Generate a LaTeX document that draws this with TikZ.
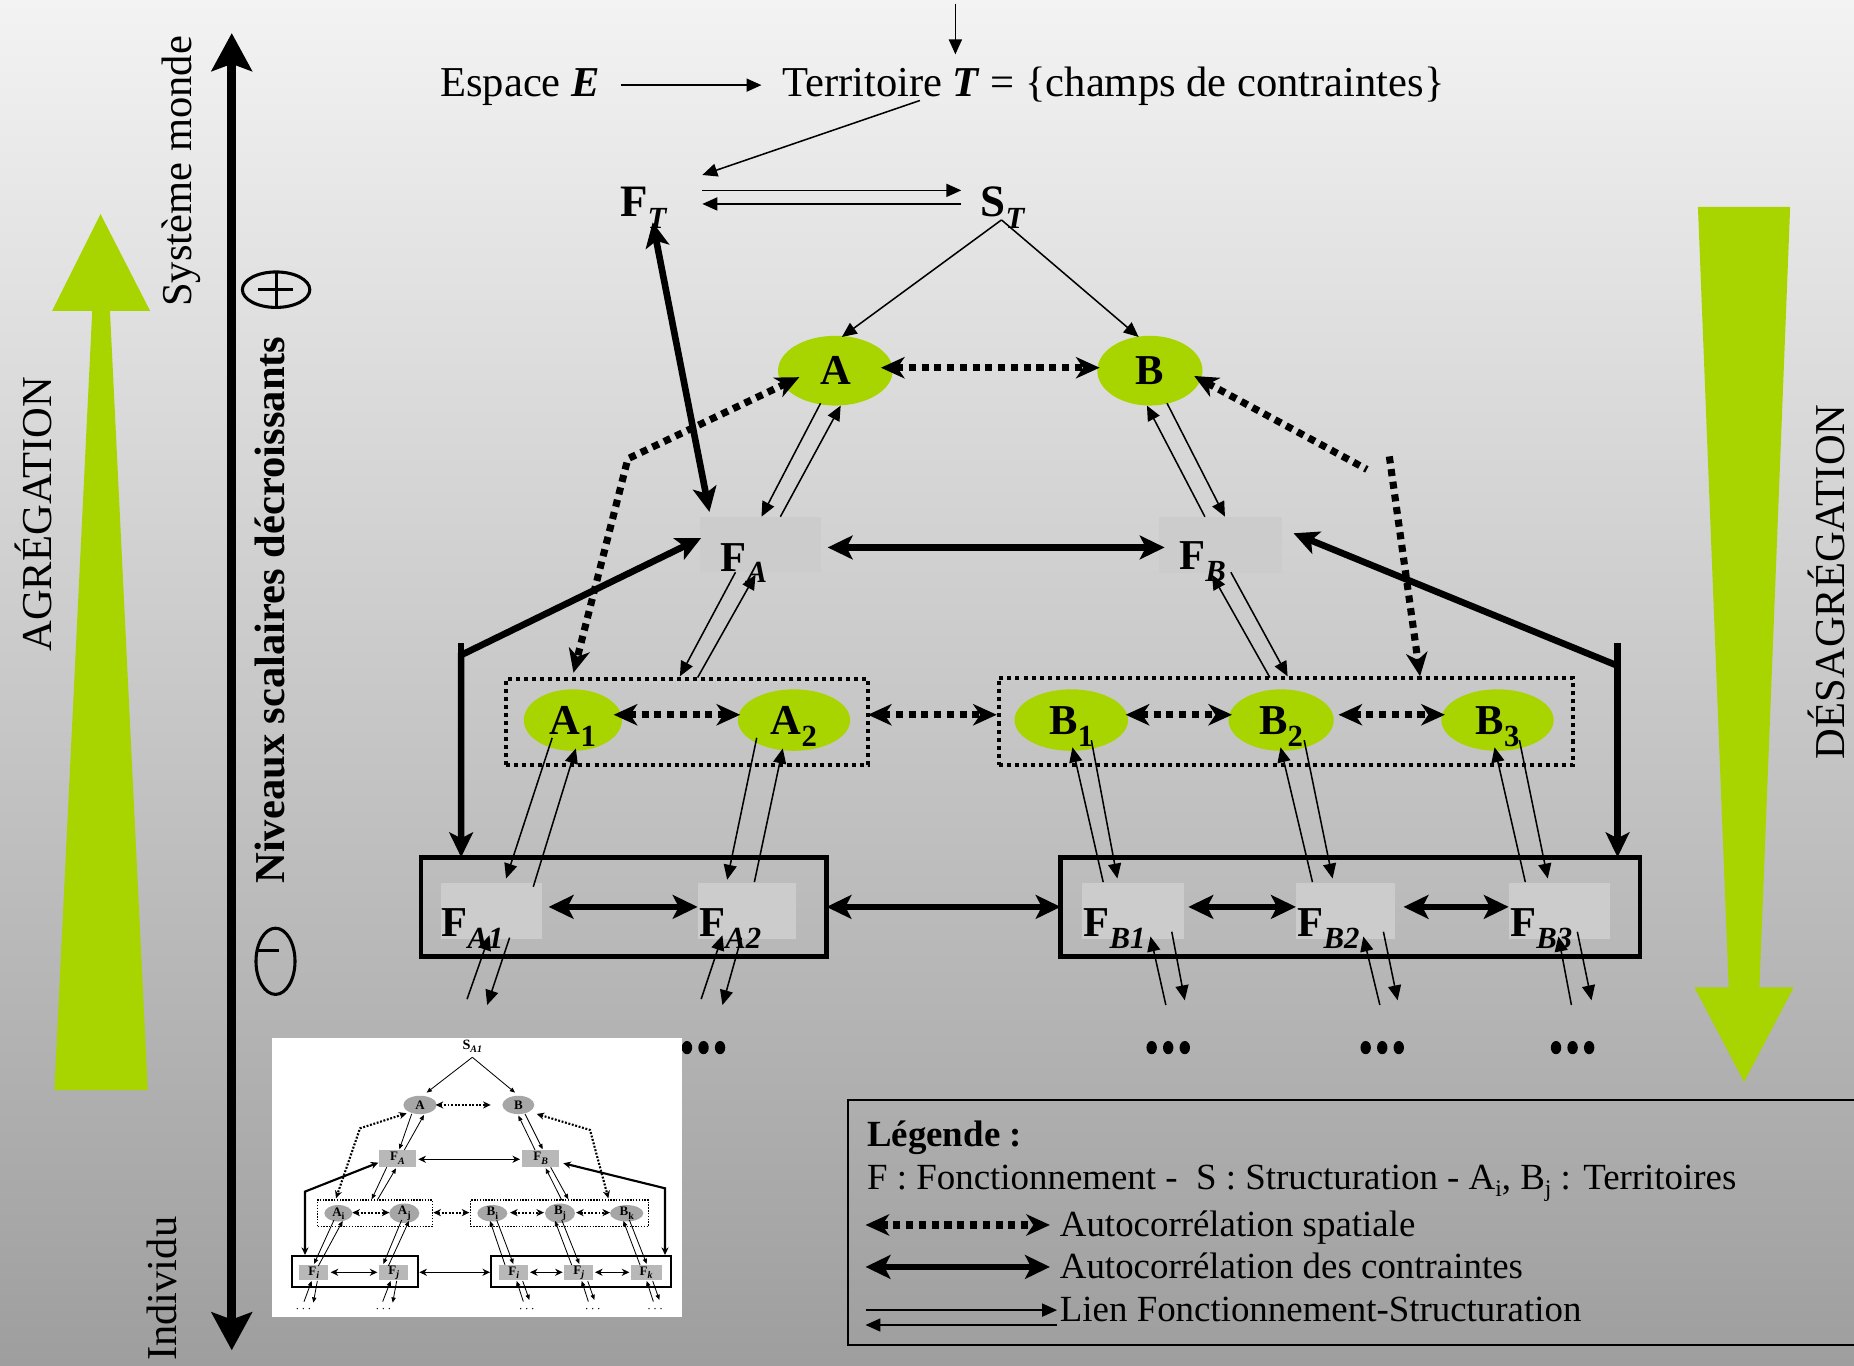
\documentclass[tikz,border=0pt]{standalone}
\usepackage{fontspec}
\setmainfont{Liberation Serif}
\usetikzlibrary{arrows.meta,shapes.geometric}

\definecolor{bgtop}{RGB}{243,243,243}
\definecolor{bgbot}{RGB}{158,158,158}
\definecolor{leaf}{RGB}{168,212,0}
\definecolor{cellgray}{RGB}{204,204,204}
\definecolor{minigrayA}{RGB}{166,166,166}
\definecolor{minigrayB}{RGB}{184,184,184}

\newcommand\bigtxt{\fontsize{18pt}{21pt}\selectfont}
\newcommand\legtxt{\fontsize{15.6pt}{18pt}\selectfont}
\newcommand\lsub[1]{\raisebox{-5pt}{\fontsize{13pt}{13pt}\selectfont #1}}
\newcommand\bsub[1]{\lsub{\textbf{\textit{#1}}}}
\newcommand\ssub[1]{\raisebox{-3pt}{\fontsize{10pt}{10pt}\selectfont #1}}
\newcommand\msub[1]{\raisebox{-1.3pt}{\fontsize{4.2pt}{4.2pt}\selectfont\textbf{\textit{#1}}}}
\newcommand\musub[1]{\raisebox{-1.3pt}{\fontsize{4.2pt}{4.2pt}\selectfont #1}}

\tikzset{
  ttip/.tip={Triangle[length=6.3pt,width=5.5pt]},
  ktip/.tip={Stealth[length=10.5pt,width=10pt,inset=2.5pt]},
  dtip/.tip={Stealth[length=10pt,width=9pt,inset=3pt]},
  atip/.tip={Stealth[length=16pt,width=17pt,inset=3pt]},
  mtip/.tip={Triangle[length=2.2pt,width=1.8pt]},
  mktip/.tip={Stealth[length=3.2pt,width=3pt,inset=1pt]},
  tarr/.style={line width=0.65pt,arrows={-ttip}},
  thk/.style={line width=2.8pt},
  karr/.style={thk,arrows={ktip-ktip}},
  dotln/.style={line width=3pt,dash pattern=on 3pt off 2.4pt},
  darr/.style={dotln,arrows={dtip-dtip}},
  darrs/.style={dotln,arrows={dtip-}},
  darre/.style={dotln,arrows={-dtip}},
  lab/.style={inner sep=0pt,font=\bigtxt\bfseries},
  ell/.style={ellipse,fill=leaf,inner sep=0pt,font=\bigtxt\bfseries,text height=12pt,text depth=0pt},
  cell/.style={rectangle,fill=cellgray,inner sep=0pt},
  grp/.style={rectangle,draw,line width=1.7pt,dash pattern=on 1.7pt off 1.7pt,inner sep=0pt},
  frame/.style={rectangle,draw,line width=2pt,inner sep=0pt},
  side/.style={rotate=90,inner sep=0pt,font=\bigtxt},
  mlab/.style={inner sep=0pt,font=\fontsize{6pt}{7pt}\selectfont\bfseries},
  mell/.style={ellipse,fill=minigrayA,inner sep=0pt,font=\fontsize{5.5pt}{6pt}\selectfont\bfseries},
  mcell/.style={rectangle,fill=minigrayB,inner sep=0pt,font=\fontsize{5.5pt}{6pt}\selectfont\bfseries},
  mgrp/.style={rectangle,draw,line width=0.5pt,dash pattern=on 0.6pt off 0.6pt,inner sep=0pt},
  mframe/.style={rectangle,draw,line width=0.9pt,inner sep=0pt},
  mtarr/.style={line width=0.35pt,arrows={-mtip}},
  mkarr/.style={line width=0.9pt,arrows={mktip-mktip}},
  mnarr/.style={line width=0.5pt,arrows={mktip-mktip}},
  mdot/.style={line width=0.9pt,dash pattern=on 0.8pt off 0.7pt},
}

\begin{document}
\begin{tikzpicture}[x=0.5pt,y=-0.5pt]
\useasboundingbox (0,0) rectangle (1568,1155);
\clip (0,0) rectangle (1568,1155);
\shade[top color=bgtop,bottom color=bgbot] (0,0) rectangle (1568,1155);

% ---- big green arrows ----
\fill[leaf] (46,922) -- (125,922) -- (93,263) -- (127,263) -- (85,181) -- (44,263) -- (78,263) -- cycle;
\fill[leaf] (1436,175) -- (1514,175) -- (1488,835) -- (1517,835) -- (1475,915) -- (1433,835) -- (1462,835) -- cycle;

% ---- scale axis ----
\coordinate (axT) at (196,28);
\coordinate (axB) at (196,1142);
\draw[line width=4pt,arrows={atip-atip}] (axT) -- (axB);

\node[side] (agr) at (28,435) {AGRÉGATION};
\node[side] (desagr) at (1545,492) {DÉSAGRÉGATION};
\node[side] (sysm) at (153,145) {Système monde};
\node[side] (indiv) at (137,1090) {Individu};
\node[side,font=\bigtxt\bfseries] (niv) at (228,516) {Niveaux scalaires décroissants};

% plus and minus symbols
\draw[line width=1.3pt] (233.5,245) ellipse [x radius=14.25pt,y radius=7.5pt];
\draw[line width=1.3pt] (218,245) -- (248,245) (233.5,230) -- (233.5,260);
\draw[line width=1.3pt] (233,813) ellipse [x radius=8.25pt,y radius=14pt];
\draw[line width=1.3pt] (218,803.5) -- (236,803.5);

% ---- top level ----
\node[inner sep=0pt,font=\bigtxt,anchor=base west] (espace) at (372,82) {Espace \textbf{\textit{E}}};
\node[inner sep=0pt,font=\bigtxt,anchor=base west] (terr) at (661,82) {Territoire \textbf{\textit{T}} = \{champs de contraintes\}};
\node[lab,font=\fontsize{19pt}{21pt}\selectfont\bfseries,anchor=base west] (ft) at (524,183) {F\bsub{T}};
\node[lab,font=\fontsize{19pt}{21pt}\selectfont\bfseries,anchor=base west] (st) at (829,183) {S\bsub{T}};

% ---- level A / B ----
\node[ell,minimum width=48.5pt,minimum height=29.5pt] (A) at (706.5,313.5) {A};
\node[ell,minimum width=44.5pt,minimum height=29.5pt] (B) at (972.5,313.5) {B};
\node[cell,minimum width=51pt,minimum height=23.5pt] (fa) at (643,460.5) {};
\node[cell,minimum width=52pt,minimum height=24pt] (fb) at (1032,461) {};
\node[lab,anchor=base west] (faL) at (609,483) {F\bsub{A}};
\node[lab,anchor=base west] (fbL) at (997,482) {F\bsub{B}};

% ---- level A_i / B_j ----
\node[grp,minimum width=153pt,minimum height=36.5pt] (ga) at (581,610.5) {};
\node[grp,minimum width=242.5pt,minimum height=37pt] (gb) at (1087.5,610) {};
\node[ell,minimum width=41.5pt,minimum height=26pt] (A1) at (484.5,609) {A\lsub{1}};
\node[ell,minimum width=47.5pt,minimum height=26pt] (A2) at (671.5,609) {A\lsub{2}};
\node[ell,minimum width=48pt,minimum height=26pt] (B1) at (906,609) {B\lsub{1}};
\node[ell,minimum width=44.5pt,minimum height=26pt] (B2) at (1083.5,609) {B\lsub{2}};
\node[ell,minimum width=47.5pt,minimum height=26pt] (B3) at (1266.5,609) {B\lsub{3}};

% ---- lowest level ----
\node[frame,minimum width=171.5pt,minimum height=42pt] (ba) at (527.5,767) {};
\node[frame,minimum width=245pt,minimum height=42pt] (bb) at (1142,767) {};
\node[cell,minimum width=42.5pt,minimum height=23.5pt] (fa1) at (415.5,770.5) {};
\node[cell,minimum width=41.5pt,minimum height=23.5pt] (fa2) at (631.5,770.5) {};
\node[cell,minimum width=43pt,minimum height=23.5pt] (fb1) at (958,770.5) {};
\node[cell,minimum width=42pt,minimum height=23.5pt] (fb2) at (1138,770.5) {};
\node[cell,minimum width=43pt,minimum height=23.5pt] (fb3) at (1319,770.5) {};
\node[lab,anchor=base west] (fa1L) at (373,792) {F\bsub{A1}};
\node[lab,anchor=base west] (fa2L) at (591,792) {F\bsub{A2}};
\node[lab,anchor=base west] (fb1L) at (916,792) {F\bsub{B1}};
\node[lab,anchor=base west] (fb2L) at (1097,792) {F\bsub{B2}};
\node[lab,anchor=base west] (fb3L) at (1277,792) {F\bsub{B3}};

% ---- connection points ----
\coordinate (tIn) at (808,3);      \coordinate (tTip) at (808,46);
\coordinate (eOut) at (525,72);    \coordinate (tIn2) at (644,72);
\coordinate (tOut) at (778,85);    \coordinate (ftIn) at (594,148);
\coordinate (ftR1) at (594,161);   \coordinate (stL1) at (813,161);
\coordinate (ftR2) at (594,172.5); \coordinate (stL2) at (813,172.5);
\coordinate (stOut) at (847,186);
\coordinate (aTop) at (712,285);   \coordinate (bTop) at (963,285);
\coordinate (ftBot) at (552,188);  \coordinate (faTop) at (600,433);
\coordinate (aBot1) at (694,341);  \coordinate (faTop1) at (644,437);
\coordinate (faTop2) at (660,437); \coordinate (aBot2) at (711,343);
\coordinate (fbTop1) at (1019,437);\coordinate (bBot1) at (970,343);
\coordinate (bBot2) at (987,341);  \coordinate (fbTop2) at (1036,437);
\coordinate (faE) at (700,463);    \coordinate (fbW) at (985,463);
\coordinate (faW) at (593,455);    \coordinate (lCorner) at (390,554);
\coordinate (lStub) at (390,544);  \coordinate (baTop) at (390,725);
\coordinate (fbE) at (1094,451);   \coordinate (rCorner) at (1368,563);
\coordinate (rStub) at (1368,544); \coordinate (bbTop) at (1368,725);
\coordinate (aDot) at (745,311);   \coordinate (bDot) at (930,311);
\coordinate (aLeft) at (676,319);  \coordinate (lBend) at (531,388);
\coordinate (gaTop) at (485,569);
\coordinate (bRight) at (1010,318);\coordinate (rEnd) at (1156,397);
\coordinate (rStart) at (1175,386);\coordinate (gbTop) at (1201,572);
\coordinate (faB1) at (622,484);   \coordinate (gaT1) at (575,572);
\coordinate (gaT2) at (590,573);   \coordinate (faB2) at (639,486);
\coordinate (gbT1) at (1074,573);  \coordinate (fbB1) at (1025,486);
\coordinate (fbB2) at (1041,484);  \coordinate (gbT2) at (1089,572);

% ---- connectors: top ----
\draw[tarr] (tIn) -- (tTip);
\draw[tarr] (eOut) -- (tIn2);
\draw[tarr] (tOut) -- (ftIn);
\draw[tarr] (ftR1) -- (stL1);
\draw[tarr] (stL2) -- (ftR2);
\draw[tarr] (stOut) -- (aTop);
\draw[tarr] (stOut) -- (bTop);
\draw[karr] (ftBot) -- (faTop);

% A, B with F_A, F_B
\draw[darr] (aDot) -- (bDot);
\draw[tarr] (aBot1) -- (faTop1);
\draw[tarr] (faTop2) -- (aBot2);
\draw[tarr] (fbTop1) -- (bBot1);
\draw[tarr] (bBot2) -- (fbTop2);
\draw[karr] (faE) -- (fbW);
\draw[darr] (aLeft) -- (lBend) -- (gaTop);
\draw[darrs] (bRight) -- (rEnd);
\draw[darre] (rStart) -- (gbTop);
\draw[karr] (faW) -- (lCorner) -- (baTop);
\draw[thk] (lStub) -- (lCorner);
\draw[karr] (fbE) -- (rCorner) -- (bbTop);
\draw[thk] (rStub) -- (rCorner);
\draw[tarr] (faB1) -- (gaT1);
\draw[tarr] (gaT2) -- (faB2);
\draw[tarr] (gbT1) -- (fbB1);
\draw[tarr] (fbB2) -- (gbT2);

% level of A_i, B_j
\coordinate (a1R) at (519,604.5);  \coordinate (a2L) at (626,604.5);
\coordinate (gaR) at (734,604.5);  \coordinate (gbL) at (843,604.5);
\coordinate (b1R) at (952,604.5);  \coordinate (b2L) at (1042,604.5);
\coordinate (b2R) at (1132,604.5); \coordinate (b3L) at (1222,604.5);
\draw[darr] (a1R) -- (a2L);
\draw[darr] (gaR) -- (gbL);
\draw[darr] (b1R) -- (b2L);
\draw[darr] (b2R) -- (b3L);

% ellipses to lowest cells
\coordinate (a1o) at (467,624);  \coordinate (fa1i) at (428,743);
\coordinate (fa1o) at (451,750); \coordinate (a1i) at (487,633);
\coordinate (a2o) at (640,624);  \coordinate (fa2i) at (615,744);
\coordinate (fa2o) at (638,746); \coordinate (a2i) at (662,633);
\coordinate (fb1o) at (933,746); \coordinate (b1i) at (907,632);
\coordinate (b1o) at (923,626);  \coordinate (fb1i) at (945,743);
\coordinate (fb2o) at (1110,746);\coordinate (b2i) at (1083,632);
\coordinate (b2o) at (1103,626); \coordinate (fb2i) at (1127,743);
\coordinate (fb3o) at (1290,746);\coordinate (b3i) at (1264,632);
\coordinate (b3o) at (1285,626); \coordinate (fb3i) at (1309,743);
\draw[tarr] (a1o) -- (fa1i);  \draw[tarr] (fa1o) -- (a1i);
\draw[tarr] (a2o) -- (fa2i);  \draw[tarr] (fa2o) -- (a2i);
\draw[tarr] (fb1o) -- (b1i);  \draw[tarr] (b1o) -- (fb1i);
\draw[tarr] (fb2o) -- (b2i);  \draw[tarr] (b2o) -- (fb2i);
\draw[tarr] (fb3o) -- (b3i);  \draw[tarr] (b3o) -- (fb3i);

% lowest level links
\coordinate (fa1R) at (464,767);  \coordinate (fa2W) at (590,767);
\coordinate (baR) at (699,767);   \coordinate (bbL) at (897,767);
\coordinate (fb1R) at (1005,767); \coordinate (fb2W) at (1096,767);
\coordinate (fb2R) at (1187,767); \coordinate (fb3W) at (1276,767);
\draw[karr] (fa1R) -- (fa2W);
\draw[karr] (baR) -- (bbL);
\draw[karr] (fb1R) -- (fb2W);
\draw[karr] (fb2R) -- (fb3W);

% links to the levels below
\coordinate (d1a) at (395,845);  \coordinate (d1b) at (414,791);
\coordinate (d1c) at (431,793);  \coordinate (d1d) at (412,850);
\coordinate (d2a) at (593,845);  \coordinate (d2b) at (611,791);
\coordinate (d2c) at (627,793);  \coordinate (d2d) at (611,850);
\coordinate (d3a) at (986,850);  \coordinate (d3b) at (973,792);
\coordinate (d3c) at (991,788);  \coordinate (d3d) at (1002,846);
\coordinate (d4a) at (1167,850); \coordinate (d4b) at (1153,792);
\coordinate (d4c) at (1170,788); \coordinate (d4d) at (1182,846);
\coordinate (d5a) at (1329,850); \coordinate (d5b) at (1318,792);
\coordinate (d5c) at (1334,788); \coordinate (d5d) at (1346,846);
\foreach \k in {1,...,5} {
  \draw[tarr] (d\k a) -- (d\k b);
  \draw[tarr] (d\k c) -- (d\k d);
}
\foreach \cx in {581,595,609,974,988,1002,1155,1169,1183,1316,1330,1344}
  \fill (\cx,886) ellipse [x radius=2.2pt,y radius=2.8pt];

% ---- small version of the scheme ----
\begin{scope}[shift={(219.9,862.6)},scale=0.2819]
  \fill[white] (35,55) rectangle (1265,890);
  \node[mlab] (iS) at (637,80) {S\msub{A1}};
  \node[mell,minimum width=14.1pt,minimum height=7.75pt] (iA) at (480,255) {A};
  \node[mell,minimum width=13.5pt,minimum height=7.75pt] (iB) at (775,255) {B};
  \node[mcell,minimum width=15.6pt,minimum height=7pt] (iFA) at (412.5,415) {F\msub{A}};
  \node[mcell,minimum width=15.6pt,minimum height=7pt] (iFB) at (842,415) {F\msub{B}};
  \node[mgrp,minimum width=48.5pt,minimum height=11.3pt] (iGA) at (345,580) {};
  \node[mgrp,minimum width=75.2pt,minimum height=11.3pt] (iGB) at (898.5,580) {};
  \node[mell,minimum width=11.8pt,minimum height=6.2pt] (iAi) at (235,580) {A\musub{i}};
  \node[mell,minimum width=12.7pt,minimum height=6.2pt] (iAj) at (433,580) {A\musub{j}};
  \node[mell,minimum width=12.7pt,minimum height=6.2pt] (iBi) at (697,580) {B\musub{i}};
  \node[mell,minimum width=12.7pt,minimum height=6.2pt] (iBj) at (900,580) {B\musub{j}};
  \node[mell,minimum width=14.1pt,minimum height=6.2pt] (iBk) at (1100,580) {B\musub{k}};
  \node[mframe,minimum width=53.6pt,minimum height=13pt] (iBA) at (285,754) {};
  \node[mframe,minimum width=76pt,minimum height=13pt] (iBB) at (962.5,754) {};
  \node[mcell,minimum width=12.3pt,minimum height=6.3pt] (iF1) at (161.5,757.5) {F\msub{i}};
  \node[mcell,minimum width=12.3pt,minimum height=6.3pt] (iF2) at (401,757.5) {F\msub{j}};
  \node[mcell,minimum width=12.3pt,minimum height=6.3pt] (iF3) at (761,757.5) {F\msub{i}};
  \node[mcell,minimum width=12.3pt,minimum height=6.3pt] (iF4) at (956,757.5) {F\msub{j}};
  \node[mcell,minimum width=13.1pt,minimum height=6.3pt] (iF5) at (1158.5,757.5) {F\msub{k}};

  \coordinate (iSo) at (637,112);
  \coordinate (iAt) at (500,218);  \coordinate (iBt) at (765,218);
  \draw[mtarr] (iSo) -- (iAt);
  \draw[mtarr] (iSo) -- (iBt);
  \coordinate (iAr) at (527,255);  \coordinate (iBl) at (692,255);
  \draw[mdot,arrows={mktip-mktip}] (iAr) -- (iBl);
  \coordinate (p1) at (455,282); \coordinate (p2) at (418,388);
  \coordinate (p3) at (433,390); \coordinate (p4) at (492,285);
  \coordinate (p5) at (825,390); \coordinate (p6) at (775,287);
  \coordinate (p7) at (795,282); \coordinate (p8) at (848,388);
  \draw[mtarr] (p1) -- (p2);  \draw[mtarr] (p3) -- (p4);
  \draw[mtarr] (p5) -- (p6);  \draw[mtarr] (p7) -- (p8);
  \coordinate (iFAr) at (475,418); \coordinate (iFBl) at (780,418);
  \draw[mnarr] (iFAr) -- (iFBl);
  \coordinate (q1) at (355,428); \coordinate (q2) at (135,515); \coordinate (q3) at (135,705);
  \coordinate (q4) at (910,430); \coordinate (q5) at (1215,505); \coordinate (q6) at (1215,705);
  \draw[mkarr] (q1) -- (q2) -- (q3);
  \draw[mkarr] (q4) -- (q5) -- (q6);
  \coordinate (r1) at (440,280); \coordinate (r2) at (300,325); \coordinate (r3) at (228,535);
  \coordinate (r4) at (830,282); \coordinate (r5) at (990,330); \coordinate (r6) at (1045,535);
  \draw[mdot,arrows={mktip-mktip}] (r1) -- (r2) -- (r3);
  \draw[mdot,arrows={mktip-mktip}] (r4) -- (r5) -- (r6);
  \coordinate (s1) at (380,442); \coordinate (s2) at (335,538);
  \coordinate (s3) at (352,540); \coordinate (s4) at (408,445);
  \coordinate (s5) at (905,540); \coordinate (s6) at (857,445);
  \coordinate (s7) at (872,442); \coordinate (s8) at (925,538);
  \draw[mtarr] (s1) -- (s2);  \draw[mtarr] (s3) -- (s4);
  \draw[mtarr] (s5) -- (s6);  \draw[mtarr] (s7) -- (s8);
  \coordinate (h1) at (277,578);  \coordinate (h2) at (388,578);
  \coordinate (h3) at (520,578);  \coordinate (h4) at (628,578);
  \coordinate (h5) at (750,578);  \coordinate (h6) at (852,578);
  \coordinate (h7) at (948,578);  \coordinate (h8) at (1050,578);
  \draw[mdot,arrows={mktip-mktip}] (h1) -- (h2);
  \draw[mdot,arrows={mktip-mktip}] (h3) -- (h4);
  \draw[mdot,arrows={mktip-mktip}] (h5) -- (h6);
  \draw[mdot,arrows={mktip-mktip}] (h7) -- (h8);
  \coordinate (u1) at (222,600);  \coordinate (u2) at (162,732);
  \coordinate (u3) at (175,738);  \coordinate (u4) at (248,603);
  \coordinate (u5) at (425,600);  \coordinate (u6) at (370,732);
  \coordinate (u7) at (385,738);  \coordinate (u8) at (447,603);
  \coordinate (v1) at (735,735);  \coordinate (v2) at (690,603);
  \coordinate (v3) at (710,600);  \coordinate (v4) at (760,732);
  \coordinate (v5) at (935,735);  \coordinate (v6) at (885,603);
  \coordinate (v7) at (905,600);  \coordinate (v8) at (958,732);
  \coordinate (v9) at (1140,735); \coordinate (v10) at (1090,603);
  \coordinate (v11) at (1108,600);\coordinate (v12) at (1160,732);
  \draw[mtarr] (u1) -- (u2);  \draw[mtarr] (u3) -- (u4);
  \draw[mtarr] (u5) -- (u6);  \draw[mtarr] (u7) -- (u8);
  \draw[mtarr] (v1) -- (v2);  \draw[mtarr] (v3) -- (v4);
  \draw[mtarr] (v5) -- (v6);  \draw[mtarr] (v7) -- (v8);
  \draw[mtarr] (v9) -- (v10); \draw[mtarr] (v11) -- (v12);
  \coordinate (w1) at (212,757);  \coordinate (w2) at (352,757);
  \coordinate (w3) at (478,757);  \coordinate (w4) at (690,757);
  \coordinate (w5) at (810,757);  \coordinate (w6) at (908,757);
  \coordinate (w7) at (1005,757); \coordinate (w8) at (1108,757);
  \draw[mnarr] (w1) -- (w2);
  \draw[mnarr] (w3) -- (w4);
  \draw[mnarr] (w5) -- (w6);
  \draw[mnarr] (w7) -- (w8);
  \coordinate (x1) at (132,845);  \coordinate (x2) at (155,783);
  \coordinate (x3) at (172,783);  \coordinate (x4) at (160,848);
  \coordinate (x5) at (368,845);  \coordinate (x6) at (392,783);
  \coordinate (x7) at (410,783);  \coordinate (x8) at (398,848);
  \coordinate (y1) at (790,845);  \coordinate (y2) at (770,783);
  \coordinate (y3) at (788,783);  \coordinate (y4) at (808,840);
  \coordinate (y5) at (985,845);  \coordinate (y6) at (965,783);
  \coordinate (y7) at (983,783);  \coordinate (y8) at (1003,840);
  \coordinate (y9) at (1180,845); \coordinate (y10) at (1160,783);
  \coordinate (y11) at (1178,783);\coordinate (y12) at (1198,840);
  \draw[mtarr] (x1) -- (x2);  \draw[mtarr] (x3) -- (x4);
  \draw[mtarr] (x5) -- (x6);  \draw[mtarr] (x7) -- (x8);
  \draw[mtarr] (y1) -- (y2);  \draw[mtarr] (y3) -- (y4);
  \draw[mtarr] (y5) -- (y6);  \draw[mtarr] (y7) -- (y8);
  \draw[mtarr] (y9) -- (y10); \draw[mtarr] (y11) -- (y12);
  \foreach \cx in {112,130,148,352,370,388,782,800,818,980,998,1016,1167,1185,1203}
    \fill (\cx,866) circle [radius=1.1pt];
\end{scope}

% ---- legend ----
\draw[line width=0.9pt] (717,930) rectangle (1600,1137.5);
\node[inner sep=0pt,font=\legtxt\bfseries,anchor=base west] (legT) at (733,970) {Légende :};
\node[inner sep=0pt,font=\legtxt,anchor=base west] (leg1) at (733,1006)
  {F : Fonctionnement -\ \ S : Structuration - A\ssub{i}, B\ssub{j} : Territoires};
\node[inner sep=0pt,font=\legtxt,anchor=base west] (leg2) at (896,1046) {Autocorrélation spatiale};
\node[inner sep=0pt,font=\legtxt,anchor=base west] (leg3) at (896,1081) {Autocorrélation des contraintes};
\node[inner sep=0pt,font=\legtxt,anchor=base west] (leg4) at (896,1118) {Lien Fonctionnement-Structuration};
\coordinate (l1a) at (732,1036);   \coordinate (l1b) at (888,1036);
\coordinate (l2a) at (732,1071.5); \coordinate (l2b) at (888,1071.5);
\coordinate (l3a) at (732,1108);   \coordinate (l3b) at (894,1108);
\coordinate (l4a) at (894,1120.6); \coordinate (l4b) at (732,1120.6);
\draw[darr] (l1a) -- (l1b);
\draw[karr] (l2a) -- (l2b);
\draw[tarr] (l3a) -- (l3b);
\draw[tarr] (l4a) -- (l4b);
\end{tikzpicture}
\end{document}
